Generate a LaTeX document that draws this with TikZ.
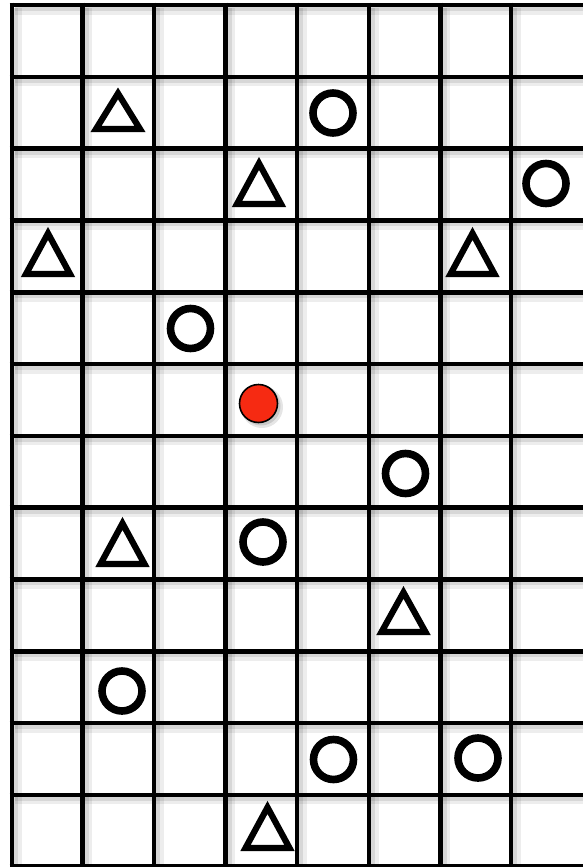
\documentclass[tikz,border=0pt]{standalone}
\begin{document}
\begin{tikzpicture}[x=0.5pt,y=-0.5pt,
  gridline/.style={line width=2.3pt,black},
  gridshadowA/.style={line width=4.5pt,black,opacity=0.07},
  gridshadowB/.style={line width=2.5pt,black,opacity=0.09},
  ring/.style={line width=3.8pt,black},
  trimark/.style={line width=3.1pt,black,line join=miter},
  reddot/.style={fill={rgb,255:red,246;green,42;blue,18},draw=black,line width=0.8pt}]
\useasboundingbox (0,0) rectangle (583,867);
\fill[white] (0,0) rectangle (583,867);
\begin{scope}
\clip (0,0) rectangle (583,867);
% shadows of the grid
\foreach \gx in {12,82.5,154,225.5,297,369,440.5,511,586} {
  \draw[gridshadowA] (\gx+5,8) -- (\gx+5,880);
  \draw[gridshadowB] (\gx+3.5,8) -- (\gx+3.5,880);
}
\foreach \gy in {5,76.8,148.6,220.4,292.2,364,435.8,507.6,579.4,651.2,723,794.8,866.6} {
  \draw[gridshadowA] (15,\gy+5) -- (600,\gy+5);
  \draw[gridshadowB] (15,\gy+3.5) -- (600,\gy+3.5);
}
% grid lines
\foreach \gx in {12,82.5,154,225.5,297,369,440.5,511,586} {
  \draw[gridline] (\gx,2.7) -- (\gx,880);
}
\foreach \gy in {5,76.8,148.6,220.4,292.2,364,435.8,507.6,579.4,651.2,723,794.8,866.6} {
  \draw[gridline] (9.7,\gy) -- (600,\gy);
}
\end{scope}
% circles
\foreach \cx/\cy in {333/113, 546/183.5, 190.5/328.5, 405.5/473.5, 263/542, 122/691, 333.5/759.5, 478/758} {
  \draw[ring] (\cx,\cy) circle[radius=20];
}
% triangles: centre x / outer top / outer bottom
\foreach \tx/\tt/\tb in {118/87/132, 259/157/207, 48/227/277, 472.5/227/277, 122.5/517/567, 403.5/586/635, 267.5/801/851} {
  \draw[trimark] (\tx,\tt+6.4) -- (\tx+22,\tb-3) -- (\tx-22,\tb-3) -- cycle;
}
% red dot with shadow
\fill[black,opacity=0.10] (262,407) circle[radius=21];
\fill[black,opacity=0.12] (261,406) circle[radius=19.5];
\draw[reddot] (258.5,403.5) circle[radius=19];
\end{tikzpicture}
\end{document}
